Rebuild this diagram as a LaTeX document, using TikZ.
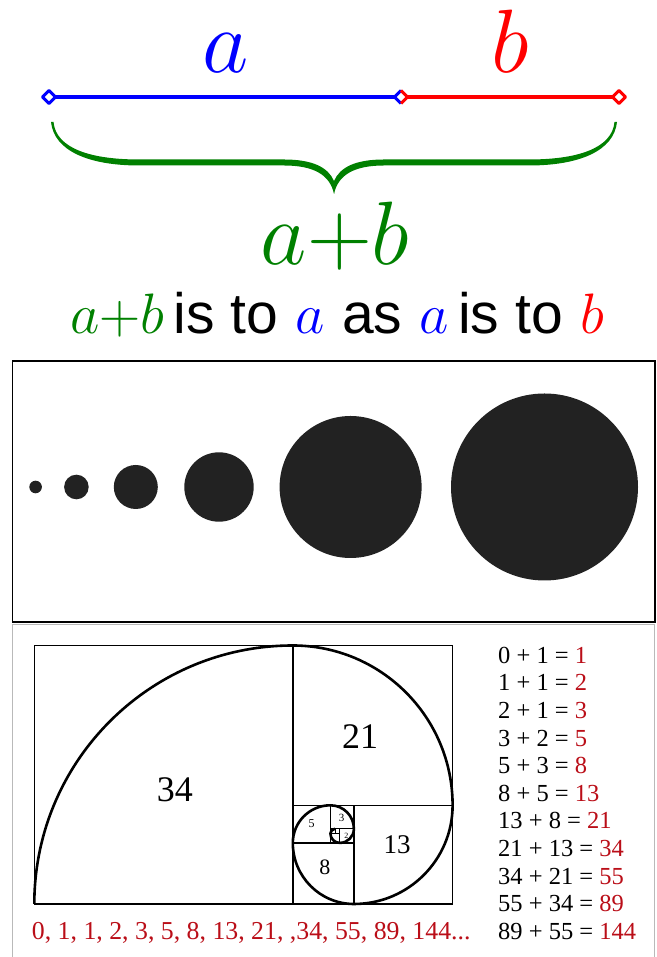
\RequirePackage{fix-cm}
\documentclass[tikz,border=0pt]{standalone}
\usepackage{amsmath}
\usepackage{fontspec}
\newfontfamily\timesfont{Liberation Serif}
\newfontfamily\arialfont{Liberation Sans}
\definecolor{segblue}{RGB}{0,0,255}
\definecolor{segred}{RGB}{255,0,0}
\definecolor{bracegreen}{RGB}{0,128,0}
\definecolor{fibred}{RGB}{186,14,24}
\definecolor{dotgray}{RGB}{34,34,34}

\begin{document}
\begin{tikzpicture}[x=1pt,y=1pt,
  seg/.style={line width=4pt},
  endmark/.style={line width=3pt,line join=round,fill=white},
  sq/.style={line width=1.4pt},
  tinysq/.style={line width=0.8pt},
  biglabel/.style={font=\fontsize{90}{90}\selectfont,inner sep=0pt,anchor=base},
  eqtext/.style={font=\timesfont\fontsize{24.5}{24.5}\selectfont,inner sep=0pt,anchor=base west},
  sqlabel/.style={font=\timesfont\fontsize{#1}{#1}\selectfont,inner sep=0pt}]
\useasboundingbox (0,0) rectangle (656,957);

% the segment a + b
\coordinate (pa) at (49,860);
\coordinate (pm) at (401,860);
\coordinate (pb) at (619,860);
\draw[seg,segblue] (pa) -- (pm);
\draw[seg,segred] (pm) -- (pb);
\draw[segblue,endmark] (pa) +(-6.5,0) -- +(0,6.5) -- +(6.5,0) -- +(0,-6.5) -- cycle;
\draw[segred,endmark] (pb) +(-6.5,0) -- +(0,6.5) -- +(6.5,0) -- +(0,-6.5) -- cycle;
\fill[white] (pm) +(-6.5,0) -- +(0,6.5) -- +(6.5,0) -- +(0,-6.5) -- cycle;
\draw[segblue,line width=3pt,line join=round] (pm) +(0,6.5) -- +(-6.5,0) -- +(0,-6.5);
\draw[segred,line width=3pt,line join=round] (pm) +(0,6.5) -- +(6.5,0) -- +(0,-6.5);
\node[biglabel,segblue] (la) at (226,884) {$a$};
\node[biglabel,segred] (lb) at (510,884) {$b$};

% brace
\foreach \s in {1,-1} {
  \begin{scope}[shift={(334,0)},xscale=\s]
    \fill[bracegreen] (-283,835) .. controls (-280,806) and (-245,791.5) .. (-195,791.5)
      -- (-50,791.5) .. controls (-20,791.5) and (-4,782) .. (0,763)
      -- (0,776) .. controls (-6,790) and (-22,797.5) .. (-50,797.5)
      -- (-195,797.5) .. controls (-242,797.5) and (-278,808) .. (-280.5,835) -- cycle;
  \end{scope}
}
\node[biglabel,bracegreen] (lab) at (335,692) {$a{+}b$};

\node[font=\fontsize{57}{57}\selectfont,inner sep=0pt,anchor=base] (ratio) at (337,623)
  {{\color{bracegreen}$a{+}b$}\,{\arialfont is to} {\color{segblue}$a$} {\arialfont as}
   {\color{segblue}$a$}\,{\arialfont is to} {\color{segred}$b$}};

% growing discs
\draw[line width=1.5pt] (12.5,335) rectangle (655,596);
\foreach \cx/\r [count=\k] in {35.6/6.3, 76.4/12.3, 135.8/22, 219/34.7, 350.6/71, 544.5/93.5}
  \fill[dotgray] (\cx,470) circle (\r);

% fibonacci rectangle
\draw[gray!55,line width=1pt] (12.7,-2) -- (12.7,332.5) -- (654,332.5) -- (654,-2);
\begin{scope}[shift={(34.3,53)},x=4.7pt,y=4.7pt]
  \draw[sq] (0,0) rectangle (89,55);
  \draw[sq] (55,0) -- (55,55);
  \draw[sq] (55,21) -- (89,21);
  \draw[sq] (68,0) -- (68,21);
  \draw[sq] (55,13) -- (68,13);
  \draw[sq] (63,13) -- (63,21);
  \draw[tinysq] (63,16) -- (68,16);
  \draw[tinysq] (65,13) -- (65,16);
  \draw[tinysq] (63,15) -- (65,15);
  \draw[tinysq] (64,15) -- (64,16);
  \draw[line width=2.6pt] (0,0) \foreach \r [count=\k] in {55,34,21,13,8,5,3,2,1} {
    arc[start angle=270-90*\k,end angle=180-90*\k,radius=\r] };
  \node[sqlabel=36] (s34) at (29.9,24.3) {34};
  \node[sqlabel=36] (s21) at (69.3,35.6) {21};
  \node[sqlabel=27] (s13) at (77.2,12.6) {13};
  \node[sqlabel=22] (s8) at (61.8,7.8) {8};
  \node[sqlabel=12] (s5) at (59,17) {5};
  \node[sqlabel=11] (s3) at (65.4,18.4) {3};
  \node[sqlabel=8] (s2) at (66.4,14.6) {2};
  \node[sqlabel=4] (s1) at (63.5,15.5) {1};
\end{scope}

\foreach \p/\q/\s [count=\i] in {0/1/1, 1/1/2, 2/1/3, 3/2/5, 5/3/8, 8/5/13,
    13/8/21, 21/13/34, 34/21/55, 55/34/89, 89/55/144}
  \node[eqtext] (eq\i) at (498,{293.7-27.6*(\i-1)}) {\p{} + \q{} = \textcolor{fibred}{\s}};
\node[eqtext,text=fibred,font=\timesfont\fontsize{25.8}{25.8}\selectfont] (fibseq) at (31.7,17.7)
  {0, 1, 1, 2, 3, 5, 8, 13, 21, ,34, 55, 89, 144...};
\end{tikzpicture}
\end{document}
